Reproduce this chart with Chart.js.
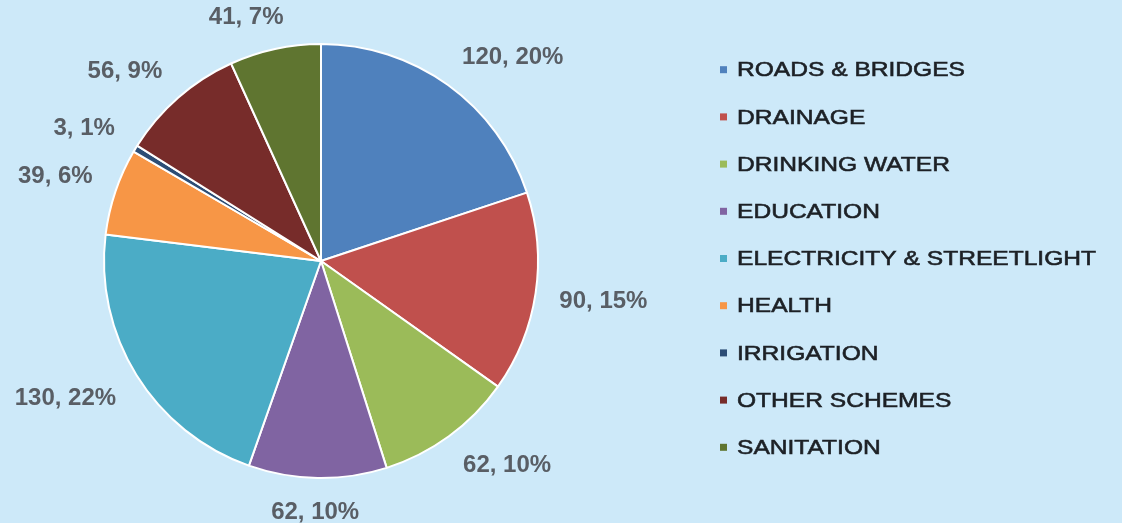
<!DOCTYPE html>
<html>
<head>
<meta charset="utf-8">
<script src="https://cdn.jsdelivr.net/npm/chart.js@4.4.1/dist/chart.umd.min.js"></script>
<style>
  html, body { margin: 0; padding: 0; background: #cde9f9; }
  #wrap { width: 1122px; height: 523px; position: relative; }
</style>
</head>
<body>
<div id="wrap"><canvas id="chart"></canvas></div>
<script>
const categories = [
  'ROADS & BRIDGES',
  'DRAINAGE',
  'DRINKING WATER',
  'EDUCATION',
  'ELECTRICITY & STREETLIGHT',
  'HEALTH',
  'IRRIGATION',
  'OTHER SCHEMES',
  'SANITATION'
];
const amounts = [120, 90, 62, 62, 130, 39, 3, 56, 41];
const percents = [20, 15, 10, 10, 22, 6, 1, 9, 7];
const sliceColors = ['#4f81bd', '#c0504d', '#9bbb59', '#8064a2', '#4bacc6', '#f79646', '#2c4d75', '#772c2a', '#5f7530'];

// "value, pct%" labels outside each slice, nearest corner of the text on the mid angle
const sliceLabels = {
  id: 'sliceLabels',
  afterDatasetsDraw(chart) {
    const ctx = chart.ctx;
    const meta = chart.getDatasetMeta(0);
    ctx.save();
    ctx.font = 'bold 24px "Liberation Sans", Arial, sans-serif';
    ctx.fillStyle = '#595e65';
    ctx.textAlign = 'center';
    ctx.textBaseline = 'middle';
    meta.data.forEach((arc, i) => {
      const p = arc.getProps(['x', 'y', 'startAngle', 'endAngle', 'outerRadius'], true);
      const mid = (p.startAngle + p.endAngle) / 2;
      const cos = Math.cos(mid), sin = Math.sin(mid);
      const text = amounts[i] + ', ' + percents[i] + '%';
      const w = ctx.measureText(text).width;
      const h = 18;
      const d = p.outerRadius + 24;
      const sx = Math.max(-1, Math.min(1, cos * 3));
      const sy = Math.max(-1, Math.min(1, sin * 3));
      ctx.fillText(text, p.x + cos * d + sx * w / 2, p.y + sin * d + sy * h / 2 + 1);
    });
    ctx.restore();
  }
};

// legend on the right, drawn on the same canvas
const sideLegend = {
  id: 'sideLegend',
  afterDraw(chart) {
    const ctx = chart.ctx;
    const rowGap = 47.2, boxX = 720, boxSize = 7, textX = 737;
    const top = chart.height / 2 - 3 - (categories.length - 1) * rowGap / 2;
    ctx.save();
    ctx.font = '21px "Liberation Sans", Arial, sans-serif';
    ctx.textBaseline = 'middle';
    ctx.textAlign = 'left';
    ctx.lineWidth = 0.6;
    categories.forEach((name, i) => {
      const cy = top + i * rowGap;
      ctx.fillStyle = sliceColors[i];
      ctx.fillRect(boxX, cy - boxSize / 2, boxSize, boxSize);
      ctx.fillStyle = '#1d2126';
      ctx.strokeStyle = '#1d2126';
      ctx.save();
      ctx.translate(textX, cy + 1);
      ctx.scale(1.17, 1);
      ctx.fillText(name, 0, 0);
      ctx.strokeText(name, 0, 0);
      ctx.restore();
    });
    ctx.restore();
  }
};

new Chart(document.getElementById('chart'), {
  type: 'pie',
  data: {
    labels: categories,
    datasets: [{
      data: amounts,
      backgroundColor: sliceColors,
      borderColor: '#ffffff',
      borderWidth: 2,
      hoverOffset: 0
    }]
  },
  options: {
    responsive: true,
    maintainAspectRatio: false,
    animation: false,
    events: [],
    layout: { padding: { left: 103, right: 583, top: 43, bottom: 44 } },
    plugins: {
      legend: { display: false },
      tooltip: { enabled: false }
    }
  },
  plugins: [sliceLabels, sideLegend]
});
</script>
</body>
</html>
